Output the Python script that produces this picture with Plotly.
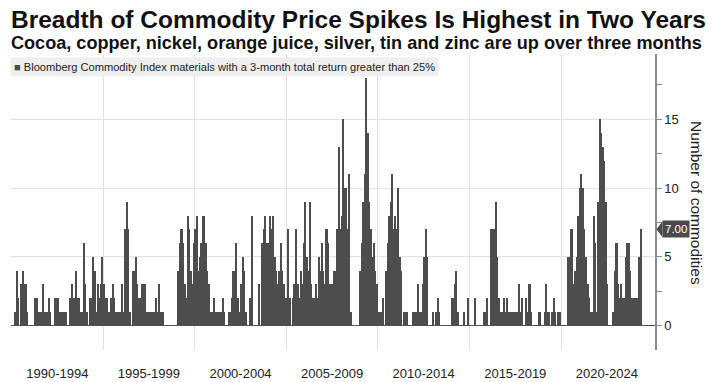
import plotly.graph_objects as go

# ---------------- data (monthly counts, Jan 1990 .. May 2024) ----------------
start_year = 1990
p1990 = [0,0,1,4,2,0,3,4,3,3,1,0,
         0,0,0,2,2,1,1,1,3,1,1,1,
         2,1,0,0,2,2,2,1,1,1,1,1,
         0,0,2,3,2,2,4,2,2,1,1,6,
         3,1,0,2,2,5,4,1,3,2,3,5]
p1995 = [3,2,2,1,1,2,3,2,1,1,1,1,
         3,1,7,9,7,1,0,4,4,5,3,2,
         2,3,3,3,1,1,1,1,1,1,2,1,
         3,1,1,1,0,0,0,0,0,0,0,0,
         0,4,6,7,6,3,2,8,7,4,3,6]
p2000 = [7,8,4,5,6,8,8,6,4,3,1,1,
         2,1,1,1,1,1,2,1,0,0,1,1,
         2,4,4,6,2,1,3,5,4,1,0,0,
         2,8,0,0,0,0,3,0,6,7,8,6,
         6,8,7,8,5,4,3,4,6,4,3,2]
p2005 = [2,7,2,0,2,3,7,3,2,4,3,6,
         9,5,4,9,3,2,2,3,2,5,4,6,
         4,3,7,6,3,3,3,4,4,7,13,7,
         8,15,10,10,7,11,1,0,0,0,0,0,
         4,6,9,11,18,14,9,7,5,6,4,3]
p2010 = [1,1,1,2,0,4,6,8,9,11,7,8,
         7,10,5,4,0,1,1,1,0,0,0,1,
         1,1,3,1,1,3,5,7,5,0,0,0,
         1,0,1,2,1,0,0,0,0,0,0,0,
         2,2,3,4,1,0,0,0,1,0,0,2]
p2015 = [0,0,0,2,0,0,0,0,0,1,1,2,
         0,0,7,7,7,9,5,2,1,1,2,1,
         2,1,1,1,1,1,1,1,3,1,2,0,
         0,2,1,3,1,0,0,0,0,1,1,0,
         0,1,3,1,1,0,1,2,1,0,1,1]
p2020 = [0,0,0,0,5,5,7,7,3,4,5,8,
         10,11,10,7,5,3,2,1,1,8,6,1,
         9,15,14,13,12,9,3,0,0,0,1,4,
         6,3,2,3,2,2,5,6,6,4,2,2,
         2,2,2,5,7]

period_starts = [1990, 1995, 2000, 2005, 2010, 2015, 2020]
period_labels = ["1990-1994", "1995-1999", "2000-2004", "2005-2009",
                 "2010-2014", "2015-2019", "2020-2024"]
y_ticks = [0, 5, 10, 15]

series_name = "Bloomberg Commodity Index materials with a 3-month total return greater than 25%"
title = "Breadth of Commodity Price Spikes Is Highest in Two Years"
subtitle = "Cocoa, copper, nickel, orange juice, silver, tin and zinc are up over three months"
y_title = "Number of commodities"

values = p1990 + p1995 + p2000 + p2005 + p2010 + p2015 + p2020
x = [start_year + (i + 0.5) / 12 for i in range(len(values))]

# ---------------- layout geometry (pixels) ----------------
W, H = 712, 382
L, R, T, B = 11, 655, 54, 350
X_RANGE = [1989.97, 2025.13]
Y_RANGE = [-1.77, 19.75]

def px(p):
    return (p - L) / (R - L)

def py(p):
    return (B - p) / (B - T)

BAR = "#4d4d4d"
GRID = "#e2e2e2"
AXIS = "#8c8c8c"
TXT = "#222222"

fig = go.Figure()
fig.add_trace(go.Bar(x=x, y=values, width=1/12, marker=dict(color=BAR, line=dict(width=0)),
                     name=series_name, showlegend=False, hoverinfo="x+y"))

fig.update_layout(
    width=W, height=H,
    margin=dict(l=L, r=W - R, t=T, b=H - B, pad=0, autoexpand=False),
    paper_bgcolor="white", plot_bgcolor="white",
    bargap=0,
    font=dict(family="Liberation Sans, Arial, sans-serif", color=TXT),
    xaxis=dict(
        range=X_RANGE, showgrid=False, zeroline=False, showline=False,
        automargin=False,
        tickmode="array",
        tickvals=[s + 2.5 for s in period_starts], ticktext=period_labels,
        ticks="outside", ticklen=11, tickcolor="rgba(0,0,0,0)",
        tickfont=dict(size=13, color=TXT),
        minor=dict(tickvals=period_starts[1:], showgrid=True, gridcolor=GRID,
                   gridwidth=1, ticks=""),
    ),
    yaxis=dict(
        range=Y_RANGE, side="right", showgrid=True, gridcolor=GRID, gridwidth=1,
        automargin=False,
        zeroline=True, zerolinecolor="#555555", zerolinewidth=1,
        showline=True, linecolor=AXIS, linewidth=1.5,
        tickmode="array", tickvals=y_ticks,
        ticks="outside", ticklen=5, tickcolor=AXIS, tickwidth=1,
        tickfont=dict(size=13, color=TXT),
        minor=dict(tickvals=[t + 2.5 for t in y_ticks], ticks="outside", ticklen=5,
                   tickcolor=AXIS, showgrid=False),
    ),
)

annotations = [
    dict(text="<b>" + title + "</b>", x=px(9), y=py(19), xref="paper", yref="paper",
         xanchor="left", yanchor="middle", showarrow=False,
         font=dict(size=24.5, color="#111111", family="Liberation Sans, Arial, sans-serif")),
    dict(text="<b>" + subtitle + "</b>", x=px(9), y=py(43), xref="paper", yref="paper",
         xanchor="left", yanchor="middle", showarrow=False,
         font=dict(size=18.1, color="#111111", family="Liberation Sans, Arial, sans-serif")),
    dict(text='<span style="color:%s">■</span> %s' % (BAR, series_name),
         x=px(10), y=py(66.5), xref="paper", yref="paper",
         xanchor="left", yanchor="middle", showarrow=False, align="left",
         bgcolor="#efefef", borderpad=3,
         font=dict(size=11.1, color=TXT, family="Liberation Sans Narrow, Arial Narrow, sans-serif")),
    dict(text=y_title, x=px(697), y=py(203), xref="paper", yref="paper",
         xanchor="center", yanchor="middle", textangle=90, showarrow=False,
         font=dict(size=15.5, color=TXT)),
]

last = values[-1]
annotations.append(dict(text="%.2f" % last, x=px(662), y=last, xref="paper", yref="y",
                        xanchor="left", yanchor="middle", showarrow=False,
                        bgcolor="#4a4a4a", borderpad=2,
                        font=dict(size=11.5, color="white")))
fig.update_layout(annotations=annotations)

upp = (Y_RANGE[1] - Y_RANGE[0]) / (B - T)
half = 8 * upp
fig.add_shape(type="path", xref="paper", yref="y",
              path="M %f,%f L %f,%f L %f,%f Z" % (px(656.5), last, px(662.5), last + half,
                                                  px(662.5), last - half),
              fillcolor="#4a4a4a", line=dict(width=0), layer="above")

fig.write_html("out.html", config={"displayModeBar": False},
               post_script="document.body.style.margin='0px';document.body.style.padding='0px';")
